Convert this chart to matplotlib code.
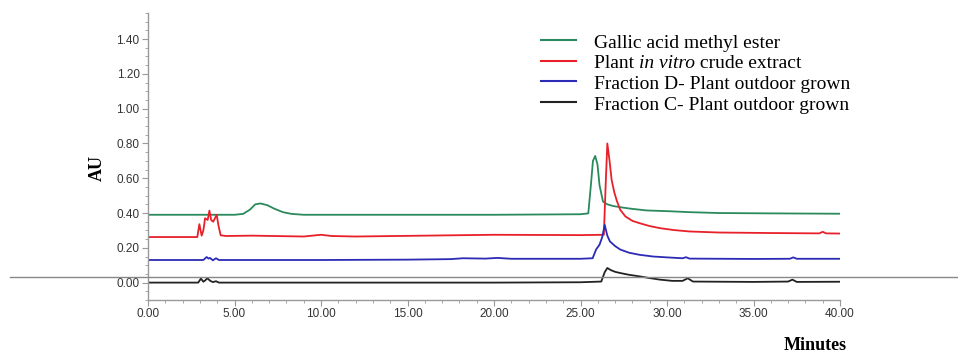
import matplotlib
matplotlib.use("Agg")
import matplotlib.pyplot as plt
from matplotlib.lines import Line2D
from matplotlib.transforms import blended_transform_factory, offset_copy
from matplotlib.ticker import MultipleLocator, FormatStrFormatter

# ---- data (retention time in minutes, absorbance in AU) ----
green_t = [0, 5.0, 5.5, 5.9, 6.2, 6.5, 6.9, 7.3, 7.8, 8.3, 9.0, 12.0, 20.0, 25.0, 25.45,
           25.6, 25.72, 25.85, 25.98, 26.1, 26.3, 26.55, 26.9, 27.4, 27.9, 28.8, 30.2, 31.3, 33.0, 36.0, 40.0]
green_v = [0.39, 0.39, 0.395, 0.42, 0.45, 0.455, 0.445, 0.425, 0.405, 0.395, 0.39, 0.39, 0.39, 0.393, 0.398,
           0.56, 0.70, 0.728, 0.68, 0.56, 0.466, 0.45, 0.44, 0.432, 0.425, 0.415, 0.41, 0.405, 0.40, 0.398, 0.396]

red_t = [0, 2.85, 2.97, 3.1, 3.2, 3.3, 3.45, 3.55, 3.65, 3.77, 3.87, 3.97, 4.07, 4.2, 4.5, 6.0, 9.0,
         9.5, 10.0, 10.6, 12.0, 16.0, 20.0, 25.0, 26.35, 26.45, 26.55, 26.68, 26.8, 26.95, 27.1, 27.3,
         27.6, 28.0, 28.4, 29.0, 29.6, 30.4, 31.3, 33.0, 36.0, 38.8, 39.0, 39.2, 40.0]
red_v = [0.262, 0.262, 0.336, 0.27, 0.30, 0.37, 0.36, 0.414, 0.36, 0.35, 0.37, 0.39, 0.33, 0.272, 0.268,
         0.27, 0.265, 0.27, 0.275, 0.268, 0.265, 0.27, 0.275, 0.273, 0.275, 0.55, 0.80, 0.70, 0.59,
         0.52, 0.47, 0.418, 0.38, 0.355, 0.342, 0.325, 0.313, 0.302, 0.294, 0.288, 0.285, 0.283, 0.292, 0.283, 0.282]

blue_t = [0, 3.2, 3.39, 3.5, 3.58, 3.75, 3.93, 4.1, 5.0, 10.0, 15.0, 17.5, 18.2, 19.5, 20.2, 21.0, 25.0, 25.7,
          25.9, 26.1, 26.25, 26.4, 26.55, 26.7, 27.0, 27.3, 27.8, 28.4, 29.2, 30.0, 30.9, 31.1, 31.3, 35.0, 37.1,
          37.3, 37.5, 40.0]
blue_v = [0.13, 0.13, 0.147, 0.138, 0.142, 0.128, 0.14, 0.13, 0.13, 0.13, 0.132, 0.135, 0.14, 0.138, 0.142,
          0.137, 0.137, 0.14, 0.19, 0.218, 0.26, 0.332, 0.27, 0.237, 0.21, 0.19, 0.172, 0.16, 0.15, 0.145, 0.14, 0.146,
          0.138, 0.136, 0.137, 0.145, 0.137, 0.137]

black_t = [0, 2.9, 3.06, 3.2, 3.3, 3.43, 3.6, 3.75, 3.93, 4.1, 5.0, 10.0, 20.0, 25.0, 26.2, 26.4, 26.55,
           26.75, 27.0, 27.3, 27.8, 28.4, 29.0, 29.6, 30.3, 30.9, 31.2, 31.5, 35.0, 37.0, 37.25, 37.5, 40.0]
black_v = [0.0, 0.0, 0.023, 0.005, 0.012, 0.025, 0.01, 0.003, 0.008, 0.0, 0.0, 0.0, 0.0, 0.002, 0.006, 0.06,
           0.084, 0.072, 0.062, 0.055, 0.045, 0.036, 0.026, 0.017, 0.01, 0.01, 0.025, 0.006, 0.004, 0.006, 0.017,
           0.004, 0.005]

labels = ["Gallic acid methyl ester",
          "Plant in vitro crude extract",
          "Fraction D- Plant outdoor grown",
          "Fraction C- Plant outdoor grown"]
colors = ["#2a8a5c", "#e8202a", "#2b2bb5", "#222222"]

xticks = [0, 5, 10, 15, 20, 25, 30, 35, 40]
yticks = [0.0, 0.2, 0.4, 0.6, 0.8, 1.0, 1.2, 1.4]

# ---- figure ----
W, H = 958, 354
fig = plt.figure(figsize=(W / 100, H / 100), dpi=100)
ax = fig.add_axes([148 / W, (H - 300) / H, (840 - 148) / W, (300 - 13) / H])

series = [(green_t, green_v), (red_t, red_v), (blue_t, blue_v), (black_t, black_v)]
for (t, v), c in zip(series, colors):
    ax.plot(t, v, color=c, lw=1.3, solid_joinstyle='round')

ax.set_xlim(0, 40)
ax.set_ylim(-0.1, 1.55)
for s in ['top', 'right']:
    ax.spines[s].set_visible(False)
for s in ['left', 'bottom']:
    ax.spines[s].set_color('#999999')
    ax.spines[s].set_linewidth(1.0)

ax.set_xticks(xticks)
ax.set_yticks(yticks)
ax.xaxis.set_minor_locator(MultipleLocator(1))
ax.yaxis.set_minor_locator(MultipleLocator(0.05))
ax.xaxis.set_major_formatter(FormatStrFormatter('%.2f'))
ax.yaxis.set_major_formatter(FormatStrFormatter('%.2f'))
ax.tick_params(which='major', length=4, width=0.8, color='#999999', labelcolor='#333333',
               labelsize=8.5, pad=2)
ax.tick_params(which='minor', length=2.5, width=0.6, color='#999999')
for lbl in ax.get_xticklabels() + ax.get_yticklabels():
    lbl.set_fontfamily('Liberation Sans')

# gray horizontal line across figure
tr = blended_transform_factory(fig.transFigure, ax.transData)
fig.add_artist(Line2D([10 / W, 1.0], [0.03, 0.03], transform=tr, color='#888888', lw=1.0))

# axis labels
fig.text(97 / W, (H - 168) / H, "AU", rotation=90, ha='center', va='center',
         fontfamily='Liberation Serif', fontweight='bold', fontsize=13)
fig.text(815 / W, (H - 345) / H, "Minutes", ha='center', va='center',
         fontfamily='Liberation Serif', fontweight='bold', fontsize=13)

# manual legend
fs = 14
row0, dy = 40.0, 20.7
renderer = fig.canvas.get_renderer()
for i, (lab, c) in enumerate(zip(labels, colors)):
    ly = row0 + dy * i
    fig.add_artist(Line2D([541 / W, 576 / W], [(H - ly) / H] * 2, color=c, lw=1.5))
    by = (H - (ly + 7.5)) / H
    if "in vitro" in lab:
        parts = [("Plant ", 'normal'), ("in vitro", 'italic'), (" crude extract", 'normal')]
        x = 594 / W
        for txt, st in parts:
            t = fig.text(x, by, txt, fontfamily='Liberation Serif', fontstyle=st, fontsize=fs,
                         va='baseline', ha='left')
            bb = t.get_window_extent(renderer)
            x = bb.x1 / W
    else:
        fig.text(594 / W, by, lab, fontfamily='Liberation Serif', fontsize=fs,
                 va='baseline', ha='left')

fig.savefig("out.png", dpi=100)
